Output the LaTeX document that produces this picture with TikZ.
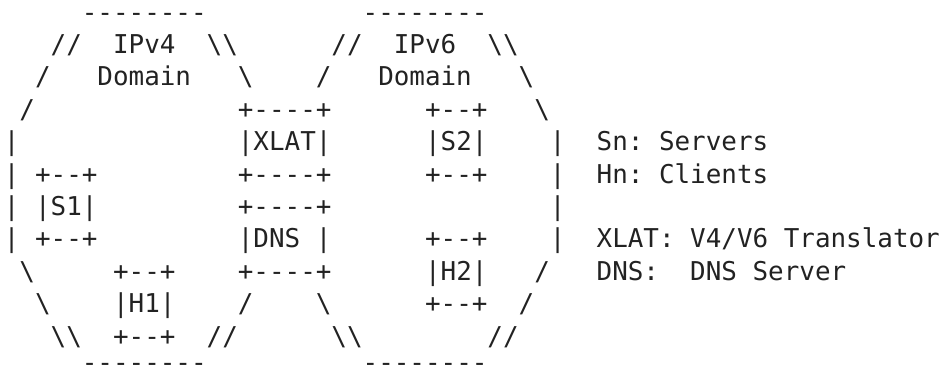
\documentclass[tikz,border=0pt]{standalone}
\usepackage{fontspec}
\setmonofont{DejaVu Sans Mono}[WordSpace={1,0,0}]
\definecolor{ink}{RGB}{34,34,34}
\newcommand{\bsl}{\textbackslash}
\begin{document}
\begin{tikzpicture}[x=1pt,y=1pt,
  asciiline/.style={anchor=base west, inner sep=0pt, outer sep=0pt,
    font=\ttfamily\fontsize{25.91}{30}\selectfont, text=ink}]
\useasboundingbox (0,0) rectangle (941,-372);
\def\lx{3.9}
\node[asciiline] (l1)  at (\lx,-21.0)  {~~~~~--------~~~~~~~~~~--------};
\node[asciiline] (l2)  at (\lx,-53.4)  {~~~//~~IPv4~~\bsl\bsl~~~~~~//~~IPv6~~\bsl\bsl};
\node[asciiline] (l3)  at (\lx,-85.8)  {~~/~~~Domain~~~\bsl~~~~/~~~Domain~~~\bsl};
\node[asciiline] (l4)  at (\lx,-118.2) {~/~~~~~~~~~~~~~+----+~~~~~~+--+~~~\bsl};
\node[asciiline] (l5)  at (\lx,-150.6) {|~~~~~~~~~~~~~~|XLAT|~~~~~~|S2|~~~~|~~Sn:~Servers};
\node[asciiline] (l6)  at (\lx,-183.0) {|~+--+~~~~~~~~~+----+~~~~~~+--+~~~~|~~Hn:~Clients};
\node[asciiline] (l7)  at (\lx,-215.4) {|~|S1|~~~~~~~~~+----+~~~~~~~~~~~~~~|};
\node[asciiline] (l8)  at (\lx,-247.8) {|~+--+~~~~~~~~~|DNS~|~~~~~~+--+~~~~|~~XLAT:~V4/V6~Translator};
\node[asciiline] (l9)  at (\lx,-280.2) {~\bsl~~~~~+--+~~~~+----+~~~~~~|H2|~~~/~~~DNS:~~DNS~Server};
\node[asciiline] (l10) at (\lx,-312.6) {~~\bsl~~~~|H1|~~~~/~~~~\bsl~~~~~~+--+~~/};
\node[asciiline] (l11) at (\lx,-345.0) {~~~\bsl\bsl~~+--+~~//~~~~~~\bsl\bsl~~~~~~~~//};
\node[asciiline] (l12) at (\lx,-371.6) {~~~~~--------~~~~~~~~~~--------};
\end{tikzpicture}
\end{document}
